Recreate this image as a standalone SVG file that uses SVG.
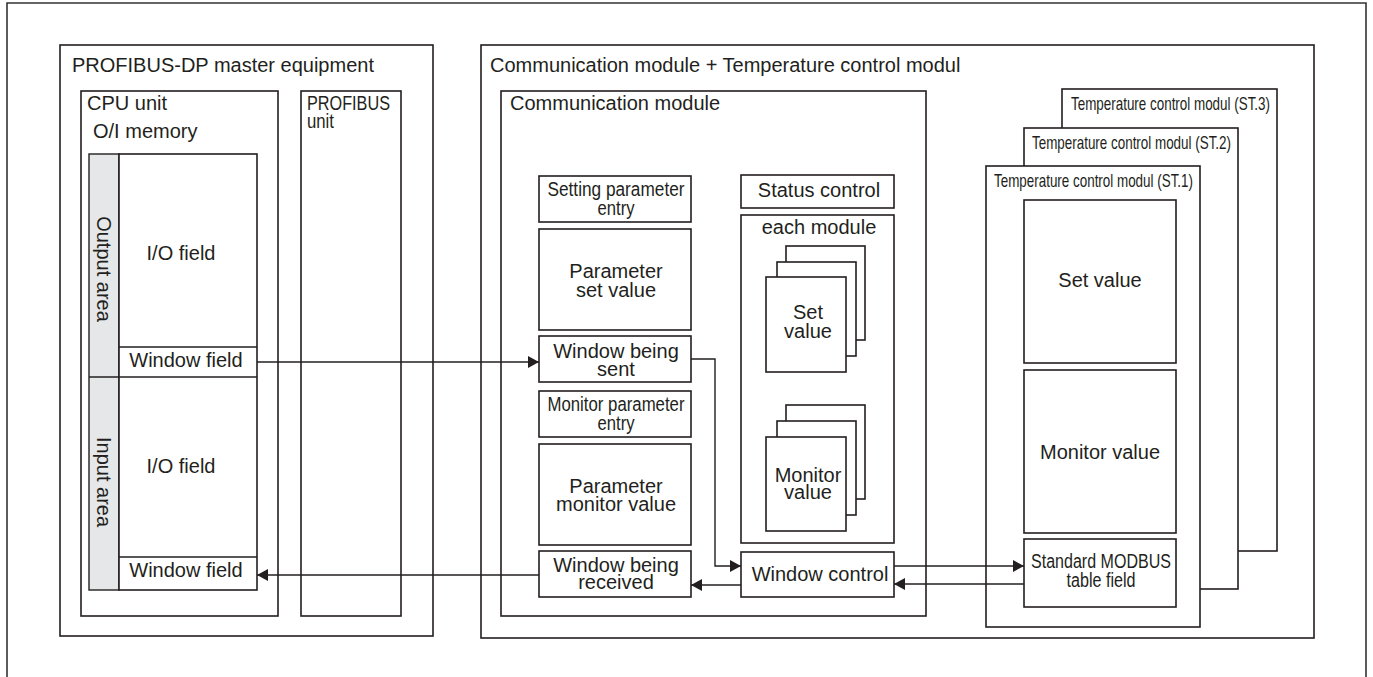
<svg xmlns="http://www.w3.org/2000/svg" width="1373" height="677" viewBox="0 0 1373 677">
<style>
.b{fill:#fff;stroke:#231f20;stroke-width:1.6}
.f{fill:none;stroke:#231f20;stroke-width:1.6}
.t{font-family:"Liberation Sans",Arial,sans-serif;font-size:20px;fill:#231f20}
.n{font-family:"Liberation Sans",Arial,sans-serif;font-size:19px;fill:#231f20}
.c{text-anchor:middle}
.ln{fill:none;stroke:#231f20;stroke-width:1.4}
</style>
<defs>
<marker id="ah" markerUnits="userSpaceOnUse" markerWidth="11" markerHeight="12" refX="11" refY="6" orient="auto">
<path d="M0,0 L11,6 L0,12 z" fill="#231f20"/>
</marker>
</defs>
<rect width="1373" height="677" fill="#fff"/>
<path d="M7,677 V3 H1366 V677" fill="none" stroke="#333" stroke-width="1.6"/>

<g id="master">
<rect class="b" x="60" y="45" width="373" height="591"/>
<text class="t" x="72" y="72">PROFIBUS-DP master equipment</text>
</g>
<g id="cpu">
<rect class="b" x="81" y="91" width="197" height="525"/>
<text class="t" x="87" y="110">CPU unit</text>
<text class="t" x="93" y="138">O/I memory</text>
</g>
<g id="memory">
<rect x="89" y="154" width="30" height="436" fill="#e6e7e8" stroke="#231f20" stroke-width="1.4"/>
<rect class="b" x="119" y="154" width="138" height="436"/>
<line class="f" x1="89" y1="377" x2="257" y2="377"/>
<line class="f" x1="119" y1="347" x2="257" y2="347"/>
<line class="f" x1="119" y1="557" x2="257" y2="557"/>
<text class="t" transform="translate(104,269) rotate(90)" text-anchor="middle" dominant-baseline="central">Output area</text>
<text class="t" transform="translate(104,482) rotate(90)" text-anchor="middle" dominant-baseline="central">Input area</text>
<text class="t c" x="181" y="260">I/O field</text>
<text class="t c" x="181" y="473">I/O field</text>
<text class="t c" x="186" y="367">Window field</text>
<text class="t c" x="186" y="577">Window field</text>
</g>
<g id="profibus-unit">
<rect class="b" x="301" y="91" width="100" height="525"/>
<text class="t"><tspan x="307" y="110" textLength="83" lengthAdjust="spacingAndGlyphs">PROFIBUS</tspan><tspan x="307" y="128" textLength="27" lengthAdjust="spacingAndGlyphs">unit</tspan></text>
</g>

<g id="comm-temp">
<rect class="b" x="481" y="45" width="833" height="593"/>
<text class="t" x="490" y="72">Communication module + Temperature control modul</text>
</g>
<g id="comm">
<rect class="b" x="501" y="91" width="425" height="525"/>
<text class="t" x="510" y="110">Communication module</text>
</g>
<g id="setting-entry">
<rect class="b" x="539" y="176" width="152" height="46"/>
<text class="t c"><tspan x="616" y="196" textLength="137" lengthAdjust="spacingAndGlyphs">Setting parameter</tspan><tspan x="616" y="215" textLength="37" lengthAdjust="spacingAndGlyphs">entry</tspan></text>
</g>
<g id="param-set">
<rect class="b" x="539" y="229" width="152" height="101"/>
<text class="t c"><tspan x="616" y="278">Parameter</tspan><tspan x="616" y="297">set value</tspan></text>
</g>
<g id="win-sent">
<rect class="b" x="539" y="336" width="152" height="46"/>
<text class="t c"><tspan x="616" y="358">Window being</tspan><tspan x="616" y="376">sent</tspan></text>
</g>
<g id="monitor-entry">
<rect class="b" x="539" y="391" width="152" height="46"/>
<text class="t c"><tspan x="616" y="411" textLength="137" lengthAdjust="spacingAndGlyphs">Monitor parameter</tspan><tspan x="616" y="430" textLength="37" lengthAdjust="spacingAndGlyphs">entry</tspan></text>
</g>
<g id="param-monitor">
<rect class="b" x="539" y="444" width="152" height="101"/>
<text class="t c"><tspan x="616" y="493">Parameter</tspan><tspan x="616" y="511">monitor value</tspan></text>
</g>
<g id="win-recv">
<rect class="b" x="539" y="551" width="152" height="46"/>
<text class="t c"><tspan x="616" y="572">Window being</tspan><tspan x="616" y="589">received</tspan></text>
</g>
<g id="status">
<rect class="b" x="741" y="175" width="153" height="33"/>
<text class="t c" x="819" y="197">Status control</text>
</g>
<g id="each-module">
<rect class="b" x="741" y="215" width="153" height="328"/>
<text class="t c" x="819" y="234">each module</text>
</g>
<g id="set-stack">
<rect class="b" x="786" y="246" width="79" height="94"/>
<rect class="b" x="777" y="262" width="79" height="94"/>
<rect class="b" x="766" y="277" width="80" height="95"/>
<text class="t c"><tspan x="808" y="319">Set</tspan><tspan x="808" y="338">value</tspan></text>
</g>
<g id="monitor-stack">
<rect class="b" x="786" y="405" width="79" height="94"/>
<rect class="b" x="777" y="421" width="79" height="94"/>
<rect class="b" x="766" y="437" width="80" height="94"/>
<text class="t c"><tspan x="808" y="482">Monitor</tspan><tspan x="808" y="499">value</tspan></text>
</g>
<g id="win-control">
<rect class="b" x="741" y="552" width="153" height="45"/>
<text class="t c" x="820" y="581">Window control</text>
</g>

<g id="temp3">
<rect class="b" x="1062" y="89" width="215" height="462"/>
<text class="n" x="1071" y="110" textLength="199" lengthAdjust="spacingAndGlyphs">Temperature control modul (ST.3)</text>
</g>
<g id="temp2">
<rect class="b" x="1024" y="128" width="214" height="461"/>
<text class="n" x="1032" y="149" textLength="199" lengthAdjust="spacingAndGlyphs">Temperature control modul (ST.2)</text>
</g>
<g id="temp1">
<rect class="b" x="986" y="166" width="214" height="461"/>
<text class="n" x="994" y="187" textLength="199" lengthAdjust="spacingAndGlyphs">Temperature control modul (ST.1)</text>
</g>
<g id="temp-set">
<rect class="b" x="1024" y="200" width="152" height="163"/>
<text class="t c" x="1100" y="287">Set value</text>
</g>
<g id="temp-monitor">
<rect class="b" x="1024" y="370" width="152" height="163"/>
<text class="t c" x="1100" y="459">Monitor value</text>
</g>
<g id="modbus">
<rect class="b" x="1024" y="539" width="152" height="68"/>
<text class="t c"><tspan x="1101" y="568" textLength="140" lengthAdjust="spacingAndGlyphs">Standard MODBUS</tspan><tspan x="1101" y="587" textLength="69" lengthAdjust="spacingAndGlyphs">table field</tspan></text>
</g>

<g id="connectors">
<path class="ln" d="M257,362 H539" marker-end="url(#ah)"/>
<path class="ln" d="M539,575 H257" marker-end="url(#ah)"/>
<path class="ln" d="M691,359 H715 V566 H741" marker-end="url(#ah)"/>
<path class="ln" d="M741,585 H691" marker-end="url(#ah)"/>
<path class="ln" d="M894,566 H1024" marker-end="url(#ah)"/>
<path class="ln" d="M1024,584 H894" marker-end="url(#ah)"/>
</g>
</svg>
